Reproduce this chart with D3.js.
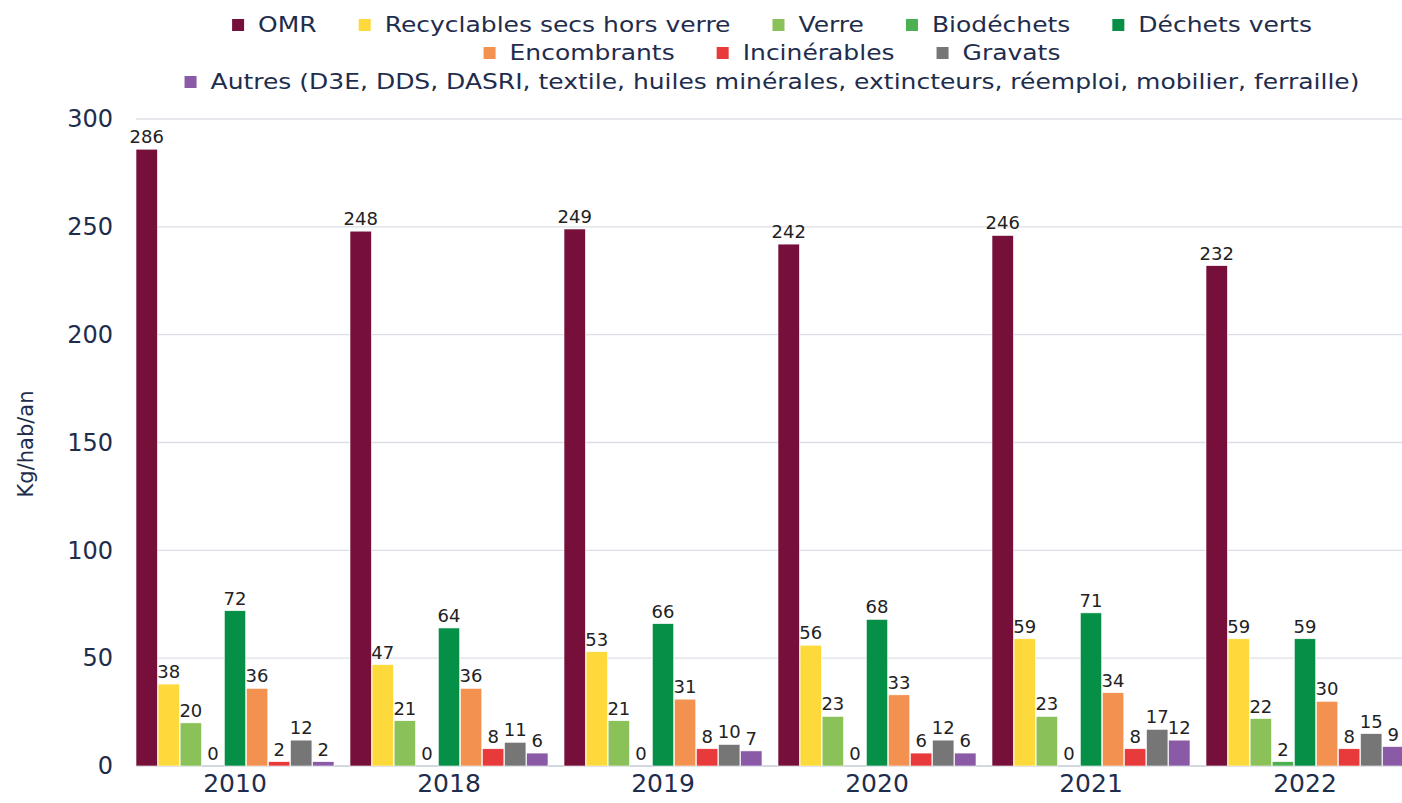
<!DOCTYPE html>
<html>
<head>
<meta charset="utf-8">
<script src="https://cdn.jsdelivr.net/npm/d3@7"></script>
<style>
  body { margin: 0; background: #fff; }
  text { font-family: "DejaVu Sans", sans-serif; }
</style>
</head>
<body>
<div id="main"></div>
<script>
var years = ["2010", "2018", "2019", "2020", "2021", "2022"];
var seriesNames = ["OMR", "Recyclables secs hors verre", "Verre", "Biodéchets", "Déchets verts",
                   "Encombrants", "Incinérables", "Gravats",
                   "Autres (D3E, DDS, DASRI, textile, huiles minérales, extincteurs, réemploi, mobilier, ferraille)"];
var omr = [286, 248, 249, 242, 246, 232];
var recyclables = [38, 47, 53, 56, 59, 59];
var verre = [20, 21, 21, 23, 23, 22];
var biodechets = [0, 0, 0, 0, 0, 2];
var dechetsVerts = [72, 64, 66, 68, 71, 59];
var encombrants = [36, 36, 31, 33, 34, 30];
var incinerables = [2, 8, 8, 6, 8, 8];
var gravats = [12, 11, 10, 12, 17, 15];
var autres = [2, 6, 7, 6, 12, 9];
var yTicks = [0, 50, 100, 150, 200, 250, 300];

var colors = ["#76103a", "#fdd93b", "#8bc159", "#4caf50", "#068f47", "#f39151", "#e83a3a", "#767676", "#8a5aa6"];
var values = [omr, recyclables, verre, biodechets, dechetsVerts, encombrants, incinerables, gravats, autres];

var W = 1402, H = 803;
var navy = "#1f2d4d";

var svg = d3.select("#main").append("svg")
    .attr("width", W).attr("height", H);

var x0 = d3.scaleBand().domain(years).range([128, 1412]).paddingInner(0).paddingOuter(0);
var x1 = d3.scaleBand().domain(d3.range(9)).range([8, x0.bandwidth() - 8]).paddingInner(0.03);
var y = d3.scaleLinear().domain([0, 300]).range([766, 119]);

// gridlines
svg.append("g").selectAll("line")
  .data(yTicks)
  .enter().append("line")
    .attr("x1", 136).attr("x2", W)
    .attr("y1", function(d) { return y(d); })
    .attr("y2", function(d) { return y(d); })
    .attr("stroke", function(d) { return d === 0 ? "#c5cad6" : "#dcdfe7"; })
    .attr("stroke-width", 1.3);

// y axis labels
var yAxis = svg.append("g")
    .attr("transform", "translate(122,0)")
    .call(d3.axisLeft(y).tickValues(yTicks).tickSize(0).tickPadding(9));
yAxis.select(".domain").remove();
yAxis.selectAll("text")
    .attr("font-size", 24).attr("fill", navy)
    .attr("font-family", "DejaVu Sans, sans-serif");

svg.append("text")
    .attr("transform", "translate(33,444) rotate(-90)")
    .attr("text-anchor", "middle")
    .attr("font-size", 21).attr("fill", navy)
    .text("Kg/hab/an");

// x axis labels
var xAxis = svg.append("g")
    .attr("transform", "translate(0,769)")
    .call(d3.axisBottom(x0).tickSize(0).tickPadding(5));
xAxis.select(".domain").remove();
xAxis.selectAll("text")
    .attr("font-size", 25).attr("fill", navy)
    .attr("font-family", "DejaVu Sans, sans-serif");

// bars
var groups = svg.append("g").selectAll("g")
  .data(years)
  .enter().append("g")
    .attr("transform", function(d) { return "translate(" + x0(d) + ",0)"; });

groups.selectAll("rect")
  .data(function(d, i) { return values.map(function(s, k) { return {k: k, v: s[i]}; }); })
  .enter().append("rect")
    .attr("x", function(d) { return x1(d.k); })
    .attr("width", x1.bandwidth())
    .attr("y", function(d) { return y(d.v); })
    .attr("height", function(d) { return y(0) - y(d.v); })
    .attr("fill", function(d) { return colors[d.k]; })
    .attr("stroke", "#fff").attr("stroke-width", 0.6);

groups.selectAll("text.val")
  .data(function(d, i) { return values.map(function(s, k) { return {k: k, v: s[i]}; }); })
  .enter().append("text")
    .attr("class", "val")
    .attr("x", function(d) { return x1(d.k) + x1.bandwidth() / 2; })
    .attr("y", function(d) { return y(d.v) - 6; })
    .attr("text-anchor", "middle")
    .attr("font-family", "Lato, sans-serif")
    .attr("font-size", 18).attr("fill", "#222")
    .text(function(d) { return d.v; });

// legend (text is a bit stretched horizontally, as in the original)
var rows = [[0, 1, 2, 3, 4], [5, 6, 7], [8]];
var rowY = [25, 53, 82];
var stretch = 1.19;
var gap = 42;
var legend = svg.append("g");
rows.forEach(function(row, r) {
  var g = legend.append("g");
  var cx = 0;
  row.forEach(function(k, j) {
    g.append("rect")
      .attr("x", cx).attr("y", rowY[r] - 6).attr("width", 12).attr("height", 12)
      .attr("fill", colors[k]);
    var t = g.append("text")
      .attr("transform", "translate(" + (cx + 26) + "," + rowY[r] + ") scale(" + stretch + ",1)")
      .attr("dy", "0.35em")
      .attr("font-size", 21).attr("fill", navy)
      .text(seriesNames[k]);
    cx += 26 + t.node().getComputedTextLength() * stretch + gap;
  });
  var w = cx - gap;
  g.attr("transform", "translate(" + (772 - w / 2) + ",0)");
});
</script>
</body>
</html>
